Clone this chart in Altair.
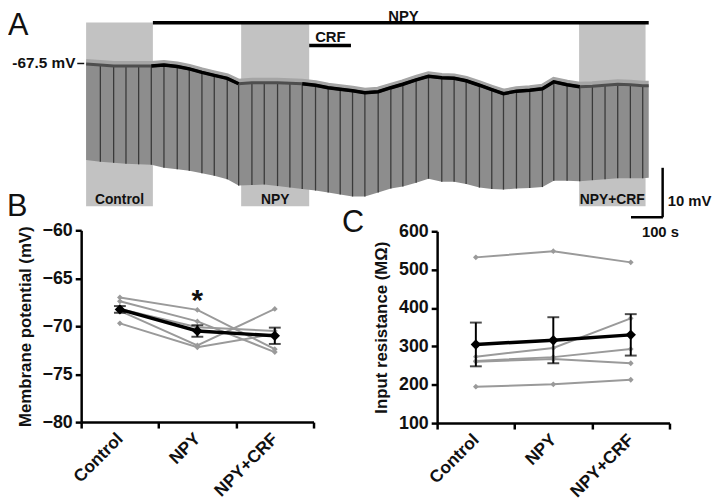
import altair as alt
import pandas as pd
import numpy as np

# ---------------- Panel A : whole-cell trace (time in s, membrane potential in mV)
trace_time = [0, 45, 87, 126, 166, 206, 246, 288, 326, 366, 405, 446, 482, 524, 563, 605,
              644, 683, 725, 765, 803, 842, 881, 923, 963, 1001, 1043, 1082, 1124, 1163,
              1201, 1243, 1282, 1319, 1360, 1402, 1442, 1478, 1520, 1560, 1600, 1640, 1680,
              1720, 1759, 1778]
trace_top = [-67.6, -67.8, -68.0, -68.0, -68.0, -68.0, -67.8, -68.1, -68.6, -69.3, -69.9,
             -70.5, -71.6, -71.4, -71.4, -71.4, -71.5, -71.6, -71.9, -72.4, -72.7, -73.0,
             -73.4, -73.2, -72.4, -71.7, -70.8, -70.1, -70.4, -70.5, -71.0, -71.9, -72.8,
             -73.6, -73.1, -72.9, -72.6, -71.2, -71.8, -72.2, -72.1, -71.9, -71.7, -71.8,
             -72.0, -72.0]
trace_bottom = [-87.0, -87.4, -87.6, -87.8, -87.9, -88.0, -88.6, -88.9, -89.2, -89.7, -90.2,
                -90.9, -92.2, -92.1, -92.0, -92.3, -92.6, -92.9, -93.2, -93.6, -94.0, -94.4,
                -94.4, -93.6, -92.8, -92.4, -91.6, -90.8, -91.4, -91.4, -91.9, -92.6, -92.9,
                -93.0, -92.8, -92.7, -92.5, -91.2, -91.2, -91.3, -91.1, -90.9, -90.7, -90.7,
                -90.7, -90.6]

# analysis windows (s)
window_names = ["Control", "NPY", "NPY+CRF"]
window_start = [0, 490, 1558]
window_end = [211, 705, 1768]

# drug applications (s)
drug_names = ["NPY", "CRF"]
drug_start = [211, 705]
drug_end = [1778, 837]

# ---------------- Panels B and C : group data
conditions = ["Control", "NPY", "NPY+CRF"]
cell_ids = ["c1", "c2", "c3", "c4", "c5"]
vm_cells = [[-67.0, -68.3, -72.4],
            [-67.4, -69.5, -72.7],
            [-68.4, -72.0, -68.2],
            [-68.2, -70.1, -70.5],
            [-69.7, -72.2, -70.8]]
vm_mean = [-68.25, -70.5, -71.0]
vm_sem = [0.35, 0.6, 0.85]

rin_cells = [[532, 548, 519],
             [195, 201, 213],
             [273, 296, 373],
             [262, 272, 293],
             [260, 267, 256]]
rin_mean = [305, 316, 330]
rin_sem = [57, 60, 54]

FONT = "Liberation Sans"
INK = "#111111"

# ---------------- tables
trace = pd.DataFrame({"t": trace_time, "top": trace_top, "bottom": trace_bottom})
pulses = trace.iloc[1:-1]
seg = np.select([(trace.t >= 206) & (trace.t <= 482), (trace.t >= 683) & (trace.t <= 1560)],
                ["s1", "s2"], default="")
black = trace.assign(seg=seg)
black = black[black.seg != ""]
windows = pd.DataFrame({"name": window_names, "t0": window_start, "t1": window_end})
windows["tc"] = (windows.t0 + windows.t1) / 2
drugs = pd.DataFrame({"name": drug_names, "t0": drug_start, "t1": drug_end})

XA = alt.Scale(domain=[0, 1778], range=[79, 648], nice=False, zero=False)
YA = alt.Scale(domain=[-97.5, -67.5], range=[203.3, 53.3], nice=False, zero=False)


def ax(field):
    return alt.X(field, scale=XA, axis=None)


def ay(field):
    return alt.Y(field, scale=YA, axis=None)


def note(rows, **mark):
    df = pd.DataFrame(rows, columns=["t", "v", "label"])
    return alt.Chart(df).mark_text(font=FONT, color=INK, **mark).encode(
        x=ax("t:Q"), y=ay("v:Q"), text="label:N")


boxes = alt.Chart(windows).mark_rect(color="#c2c2c2").encode(
    x=ax("t0:Q"), x2="t1:Q", y=alt.Y(datum=-59.2, scale=YA, axis=None), y2=alt.Y2(datum=-96.4))
area = alt.Chart(trace).mark_area(color="#8d8d8d").encode(
    x=ax("t:Q"), y=ay("top:Q"), y2="bottom:Q")
halo = alt.Chart(trace).mark_line(color="#a5a5a5", strokeWidth=6, yOffset=-2).encode(
    x=ax("t:Q"), y=ay("top:Q"))
pulse_lines = alt.Chart(pulses).mark_rule(color="#3a3a3a", strokeWidth=1.3).encode(
    x=ax("t:Q"), y=ay("top:Q"), y2="bottom:Q")
dark = alt.Chart(trace).mark_line(color="#4e4e4e", strokeWidth=3).encode(
    x=ax("t:Q"), y=ay("top:Q"))
blk = alt.Chart(black).mark_line(color="#000000", strokeWidth=3.5).encode(
    x=ax("t:Q"), y=ay("top:Q"), detail="seg:N")
box_text = alt.Chart(windows).mark_text(font=FONT, fontSize=14, fontWeight="bold", color=INK).encode(
    x=ax("tc:Q"), y=alt.Y(datum=-95.1, scale=YA, axis=None), text="name:N")
npy_bar = alt.Chart(drugs[drugs.name == "NPY"]).mark_rule(color="#000", strokeWidth=3.5).encode(
    x=ax("t0:Q"), x2="t1:Q", y=alt.Y(datum=-59.25, scale=YA, axis=None))
crf_bar = alt.Chart(drugs[drugs.name == "CRF"]).mark_rule(color="#000", strokeWidth=3.5).encode(
    x=ax("t0:Q"), x2="t1:Q", y=alt.Y(datum=-63.85, scale=YA, axis=None))
drug_text = note([[1003, -57.9, "NPY"], [772, -62.1, "CRF"]], fontSize=15, fontWeight="bold")
mv_text = note([[-34, -67.5, "-67.5 mV"]], fontSize=15.5, fontWeight="bold", align="right")
dash = alt.Chart(pd.DataFrame({"t0": [-28], "t1": [-6]})).mark_rule(color=INK, strokeWidth=1.5).encode(
    x=ax("t0:Q"), x2="t1:Q", y=alt.Y(datum=-67.5, scale=YA, axis=None))
sb_v = alt.Chart(pd.DataFrame({"t": [1822], "v0": [-88.6], "v1": [-98.6]})).mark_rule(
    color="#000", strokeWidth=2.5).encode(x=ax("t:Q"), y=ay("v0:Q"), y2="v1:Q")
sb_h = alt.Chart(pd.DataFrame({"t0": [1722], "t1": [1823], "v": [-98.6]})).mark_rule(
    color="#000", strokeWidth=2.5).encode(x=ax("t0:Q"), x2="t1:Q", y=ay("v:Q"))
sb_text1 = note([[1838, -95.4, "10 mV"]], fontSize=15, fontWeight="bold", align="left")
sb_text2 = note([[1815, -101.6, "100 s"]], fontSize=15, fontWeight="bold")
letters = note([[-247, -56.9, "A"], [-250, -93.6, "B"], [809, -96.8, "C"]],
               fontSize=31, align="left", baseline="top")

panelA = alt.layer(boxes, area, halo, pulse_lines, dark, blk, box_text, npy_bar, crf_bar,
                   drug_text, mv_text, dash, sb_v, sb_h, sb_text1, sb_text2, letters)


# ---------------- group panels
def group_panel(cells, mean, sem, xrange, yscale, xoff, yoff, title, values, star=None):
    rows = []
    for cid, vals in zip(cell_ids, cells):
        for cond, v in zip(conditions, vals):
            rows.append({"cell": cid, "cond": cond, "val": v})
    df = pd.DataFrame(rows)
    mdf = pd.DataFrame({"cond": conditions, "mean": mean, "sem": sem})
    mdf["lo"] = mdf["mean"] - mdf["sem"]
    mdf["hi"] = mdf["mean"] + mdf["sem"]

    xs = alt.Scale(type="band", domain=conditions, range=xrange, paddingInner=0, paddingOuter=0)
    xaxis = alt.Axis(orient="bottom", offset=xoff, title=None, tickBand="extent", labelAngle=315,
                     labelAlign="right", labelBaseline="middle", labelFontSize=17.5,
                     labelFontWeight="bold", labelColor=INK, labelFont=FONT, labelPadding=8,
                     domainColor="#000", domainWidth=2.5, tickColor="#000", tickWidth=2.5,
                     tickSize=6, grid=False)
    yaxis = alt.Axis(orient="left", offset=yoff, title=title, values=values, labelFontSize=18,
                     labelFontWeight="bold", labelColor=INK, labelFont=FONT, labelPadding=3,
                     titleFont=FONT, titleFontSize=17, titleFontWeight="bold", titleColor=INK,
                     titlePadding=8, domainColor="#000", domainWidth=2.5, tickColor="#000",
                     tickWidth=2.5, tickSize=6, grid=False)
    X = alt.X("cond:N", scale=xs, axis=xaxis, sort=conditions)
    base = alt.Chart(df)
    m = alt.Chart(mdf)
    layers = [
        base.mark_line(color="#9a9a9a", strokeWidth=2).encode(
            x=X, y=alt.Y("val:Q", scale=yscale, axis=yaxis), detail="cell:N"),
        base.mark_point(shape="diamond", filled=True, color="#9a9a9a", size=34, opacity=1).encode(
            x=X, y=alt.Y("val:Q", scale=yscale, axis=yaxis)),
        m.mark_rule(color="#000", strokeWidth=2).encode(
            x=X, y=alt.Y("lo:Q", scale=yscale, axis=yaxis), y2="hi:Q"),
        m.mark_tick(color="#000", size=12, thickness=2).encode(
            x=X, y=alt.Y("lo:Q", scale=yscale, axis=yaxis)),
        m.mark_tick(color="#000", size=12, thickness=2).encode(
            x=X, y=alt.Y("hi:Q", scale=yscale, axis=yaxis)),
        m.mark_line(color="#000", strokeWidth=3.5).encode(
            x=X, y=alt.Y("mean:Q", scale=yscale, axis=yaxis)),
        m.mark_point(shape="diamond", filled=True, color="#000", size=110, opacity=1).encode(
            x=X, y=alt.Y("mean:Q", scale=yscale, axis=yaxis)),
    ]
    if star is not None:
        sdf = pd.DataFrame({"cond": [star[0]], "v": [star[1]], "s": ["*"]})
        layers.append(alt.Chart(sdf).mark_text(font=FONT, fontSize=30, fontWeight="bold",
                                               color=INK, baseline="alphabetic").encode(
            x=X, y=alt.Y("v:Q", scale=yscale, axis=yaxis), text="s:N"))
    return alt.layer(*layers)


YB = alt.Scale(domain=[-80, -60], range=[416, 222], nice=False, zero=False)
YC = alt.Scale(domain=[100, 600], range=[417, 223], nice=False, zero=False)

panelB = group_panel(vm_cells, vm_mean, vm_sem, [74, 309], YB, -80, -74,
                     "Membrane potential (mV)", [-80, -75, -70, -65, -60], star=("NPY", -68.3))
panelC = group_panel(rin_cells, rin_mean, rin_sem, [434, 669], YC, -79, -434,
                     "Input resistance (MΩ)", [100, 200, 300, 400, 500, 600])

chart = alt.layer(panelA, panelB, panelC).resolve_scale(
    x="independent", y="independent"
).properties(
    width=712, height=496, padding=0, autosize=alt.AutoSizeParams(type="none")
).configure(font=FONT).configure_view(stroke=None)

chart.save("out.html", embed_options={"renderer": "svg", "actions": False})
